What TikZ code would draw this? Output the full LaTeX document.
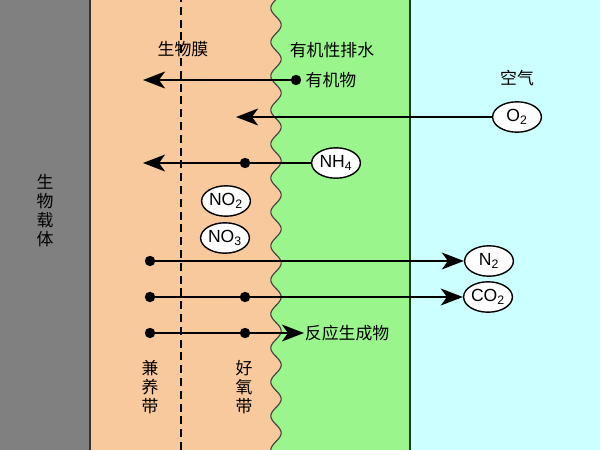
\documentclass[tikz,border=0pt]{standalone}
\usepackage{fontspec}
\setmainfont{Liberation Sans}
\newfontfamily\cjk{Noto Sans CJK SC}
\usetikzlibrary{arrows.meta,shapes.geometric}
\definecolor{carrier}{RGB}{128,128,128}
\definecolor{film}{RGB}{249,201,158}
\definecolor{water}{RGB}{153,245,140}
\definecolor{air}{RGB}{204,255,255}
\definecolor{rim}{RGB}{25,60,35}
\begin{document}
\begin{tikzpicture}[zh/.style={font=\cjk\fontsize{12}{13.5}\selectfont, inner sep=1pt}, zhcol/.style={zh, align=center},
  gas/.style={draw, line width=1pt, fill=white, ellipse, minimum width=1.22cm, minimum height=0.76cm, inner sep=0pt, font=\fontsize{12.5}{13}\selectfont},
  dot/.style={circle, fill=black, inner sep=0pt, minimum size=0.26cm},
  flow/.style={line width=1.8pt, -{Stealth[length=0.55cm,width=0.42cm,inset=0.15cm]}}]
\useasboundingbox (0,0) rectangle (15,11.25);
\fill[air] (0,0) rectangle (15,11.25);\fill[water] (6.5,0) rectangle (10.25,11.25);
\fill[film] (2.25,0) -- (2.25,11.25) -- plot[domain=11.25:0, samples=240] ({6.9+0.13*cos((\x-8.925)*423.53)}, \x) -- cycle;
\draw[black!75, line width=0.8pt] plot[domain=11.25:0, samples=240] ({6.9+0.13*cos((\x-8.925)*423.53)}, \x);
\fill[carrier] (0,0) rectangle (2.25,11.25);
\draw[black!80, line width=2pt] (2.25,0) -- (2.25,11.25);\draw[rim, line width=2pt] (10.25,0) -- (10.25,11.25);
\draw[line width=1pt, dash pattern=on 0.2cm off 0.12cm] (4.525,0) -- (4.525,11.25);
\node[zh] (film) at (4.575,10.025) {生物膜};\node[zh] (water) at (8.3,10.0) {有机性排水};\node[zh] (air) at (12.925,9.3) {空气};
\node[zhcol] (carrier) at (1.125,5.975) {生\\物\\载\\体};
\node[zhcol] (facult) at (3.75,1.575) {兼\\养\\带};\node[zhcol] (aerob) at (6.1,1.575) {好\\氧\\带};
\node[gas] (o2) at (12.925,8.325) {O\textsubscript{2}};\node[gas] (nh4) at (8.4,7.175) {NH\textsubscript{4}};
\node[gas] (no2) at (5.65,6.225) {NO\textsubscript{2}};\node[gas] (no3) at (5.625,5.3) {NO\textsubscript{3}};
\node[gas] (n2) at (12.225,4.725) {N\textsubscript{2}};\node[gas] (co2) at (12.2,3.825) {CO\textsubscript{2}};
\node[dot] (d1) at (7.4,9.25) {};\node[zh, anchor=west] (org) at (7.6,9.25) {有机物};
\node[dot] (d3) at (6.125,7.175) {};
\node[dot] (d4) at (3.75,4.725) {};
\node[dot] (d5a) at (3.75,3.825) {};\node[dot] (d5b) at (6.125,3.825) {};
\node[dot] (d6a) at (3.75,2.925) {};\node[dot] (d6b) at (6.125,2.925) {};
\node[zh, anchor=west, inner sep=0.5pt] (prod) at (7.6,2.925) {反应生成物};
\coordinate (t1) at (3.575,9.25);\coordinate (t2) at (5.9,8.325);\coordinate (t3) at (3.575,7.175);
\draw[flow] (d1.center) -- (t1);\draw[flow] (o2.west) -- (t2);\draw[flow] (nh4.west) -- (t3);
\draw[flow] (d4.center) -- (n2.west);\draw[flow] (d5a.center) -- (co2.west);\draw[flow] (d6a.center) -- (prod.west);
\end{tikzpicture}
\end{document}
